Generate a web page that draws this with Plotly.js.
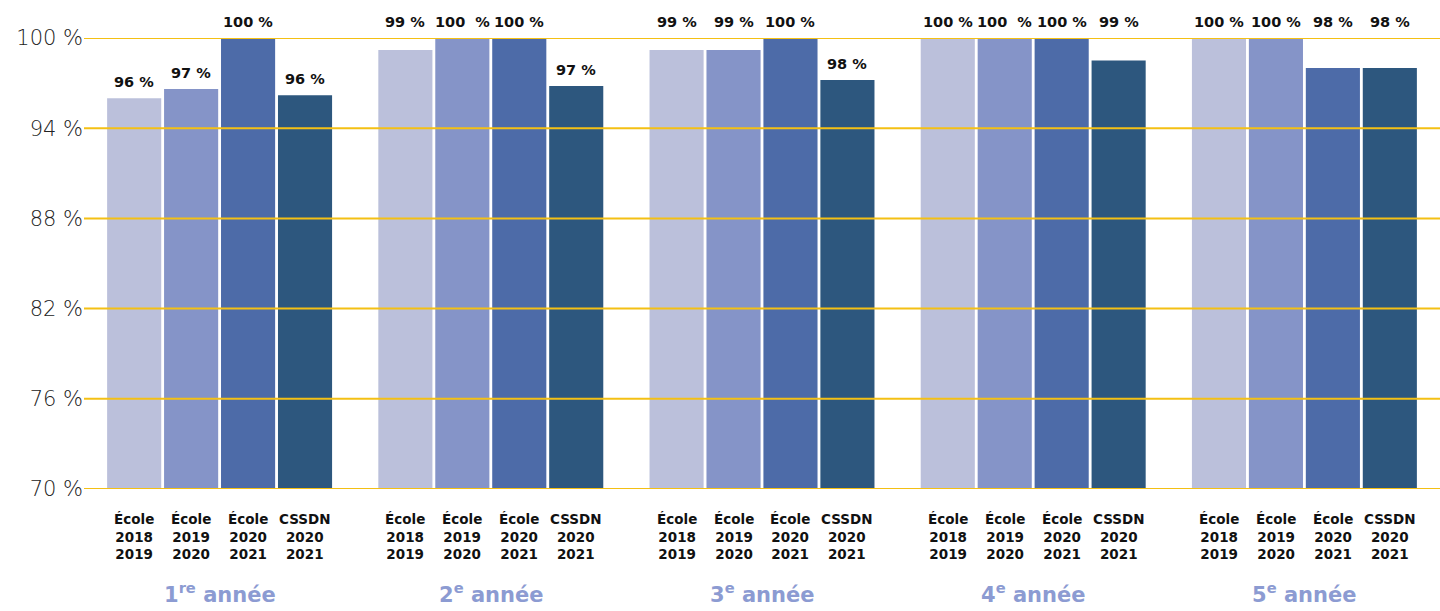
<!DOCTYPE html>
<html>
<head>
<meta charset="utf-8">
<script src="https://cdn.plot.ly/plotly-3.0.1.min.js"></script>
<style>
  html, body { margin: 0; padding: 0; background: #ffffff; }
  #chart { width: 1440px; height: 611px; }
</style>
</head>
<body>
<div id="chart"></div>
<script>
// ---- Data ----
const groups = ['1<sup>re</sup> année', '2<sup>e</sup> année', '3<sup>e</sup> année', '4<sup>e</sup> année', '5<sup>e</sup> année'];
const seriesNames = ['École<br>2018<br>2019', 'École<br>2019<br>2020', 'École<br>2020<br>2021', 'CSSDN<br>2020<br>2021'];

const ecole2018 = [96.0, 99.2, 99.2, 100, 100];
const ecole2019 = [96.6, 100, 99.2, 100, 100];
const ecole2020 = [100, 100, 100, 100, 98.0];
const cssdn2020 = [96.2, 96.8, 97.2, 98.5, 98.0];

const labels2018 = ['96 %', '99 %', '99 %', '100 %', '100 %'];
const labels2019 = ['97 %', '100  %', '99 %', '100  %', '100 %'];
const labels2020 = ['100 %', '100 %', '100 %', '100 %', '98 %'];
const labelsCssdn = ['96 %', '97 %', '98 %', '99 %', '98 %'];

const yTicks = [70, 76, 82, 88, 94, 100];

// ---- Style ----
const colors = ['#BBC0DB', '#8594C8', '#4D6BA8', '#2D577E'];
const gridColor = '#F4C014';
const bargap = 0.16, bargroupgap = 0.05;

const series = [ecole2018, ecole2019, ecole2020, cssdn2020];
const labelSets = [labels2018, labels2019, labels2020, labelsCssdn];
const groupKeys = groups.map((g, i) => 'g' + i);

const traces = series.map((vals, j) => ({
  type: 'bar',
  x: groupKeys,
  y: vals,
  name: seriesNames[j],
  marker: { color: colors[j] },
  hoverinfo: 'skip'
}));

const annotations = [];
const nS = series.length;
const w = 1 - bargap;
series.forEach((vals, j) => {
  const off = -w / 2 + (j + 0.5) * w / nS;
  vals.forEach((v, i) => {
    annotations.push({
      x: i + off, xref: 'x', y: v >= 97.5 ? 100 : v, yref: 'y',
      yanchor: 'bottom', yshift: 6, showarrow: false,
      text: labelSets[j][i],
      font: { family: 'DejaVu Sans', size: 14.5, color: '#111', weight: 'bold' }
    });
    annotations.push({
      x: i + off, xref: 'x', y: 0, yref: 'paper',
      yanchor: 'top', yshift: -20, showarrow: false,
      text: seriesNames[j],
      font: { family: 'DejaVu Sans', size: 13.5, color: '#111', weight: 'bold' }
    });
  });
});
groups.forEach((g, i) => {
  annotations.push({
    x: i, xref: 'x', y: 0, yref: 'paper',
    yanchor: 'top', yshift: -88, showarrow: false,
    text: g,
    font: { family: 'DejaVu Sans', size: 21, color: '#8C9BD2', weight: 'bold' }
  });
});

const shapes = yTicks.map(t => ({
  type: 'line', xref: 'paper', x0: 0, x1: 1, yref: 'y', y0: t, y1: t,
  line: { color: gridColor, width: 2 }, layer: 'above'
}));

const layout = {
  width: 1440, height: 611,
  margin: { l: 84, r: 0, t: 38, b: 122 },
  paper_bgcolor: '#ffffff', plot_bgcolor: '#ffffff',
  barmode: 'group', bargap: bargap, bargroupgap: bargroupgap,
  showlegend: false,
  xaxis: { type: 'category', showticklabels: false, showgrid: false, zeroline: false, showline: false, fixedrange: true },
  yaxis: {
    range: [70, 100], tickvals: yTicks, ticktext: yTicks.map(t => t + ' %'),
    showgrid: false, zeroline: false, showline: false, ticks: '',
    tickfont: { family: 'DejaVu Sans', size: 21, color: '#222', weight: 200 },
    fixedrange: true
  },
  annotations: annotations,
  shapes: shapes
};

Plotly.newPlot('chart', traces, layout, { displayModeBar: false, staticPlot: true });
</script>
</body>
</html>
